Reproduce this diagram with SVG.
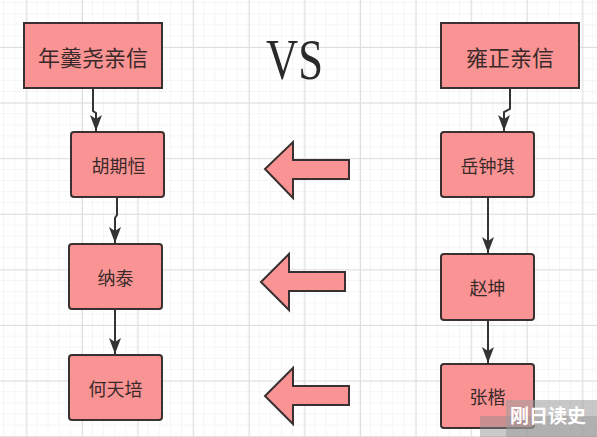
<svg xmlns="http://www.w3.org/2000/svg" width="597" height="437" viewBox="0 0 597 437">
<defs>
<pattern id="minor" x="4" y="3" width="11.12" height="11.12" patternUnits="userSpaceOnUse">
<path d="M11.12 0V11.12M0 11.12H11.12" fill="none" stroke="#ececec" stroke-width="1"/>
</pattern>
<pattern id="major" x="26.4" y="47" width="55.6" height="55.6" patternUnits="userSpaceOnUse">
<path d="M0.5 0V55.6M0 0.5H55.6" fill="none" stroke="#dedede" stroke-width="1"/>
</pattern>
<marker id="ahd" viewBox="0 0 16 12" refX="16" refY="6" markerWidth="16" markerHeight="12" markerUnits="userSpaceOnUse" orient="auto">
<path d="M0 0L16 6L0 12L4 6Z" fill="#333"/>
</marker>
</defs>
<style>
.box{fill:#fa9494;stroke:#3a3030;stroke-width:2}
.lbl{font-family:"Noto Sans CJK SC","Noto Sans CJK JP",sans-serif;fill:#3a2a2a;text-anchor:middle;dominant-baseline:central}
.big{font-size:22px}
.small{font-size:18px}
.conn{fill:none;stroke:#333;stroke-width:2}
.barrow{fill:#fa9494;stroke:#3a3030;stroke-width:2;stroke-linejoin:miter}
</style>
<rect width="597" height="437" fill="#fff"/>
<rect width="597" height="437" fill="url(#minor)"/>
<rect width="597" height="437" fill="url(#major)"/>

<g id="connectors">
<path class="conn" d="M93 88V111L96 113V131" marker-end="url(#ahd)"/>
<path class="conn" d="M117 197V215L115 218V243" marker-end="url(#ahd)"/>
<path class="conn" d="M115 309V354" marker-end="url(#ahd)"/>
<path class="conn" d="M510 88V109L504 112V131" marker-end="url(#ahd)"/>
<path class="conn" d="M488 197V253" marker-end="url(#ahd)"/>
<path class="conn" d="M488 320V363" marker-end="url(#ahd)"/>
</g>

<g id="n-nian">
<rect class="box" x="24" y="23" width="138" height="65"/>
<text class="lbl big" x="93" y="55.5">年羹尧亲信</text>
</g>
<g id="n-hu">
<rect class="box" x="71" y="132" width="93" height="65" rx="3"/>
<text class="lbl small" x="118.5" y="165">胡期恒</text>
</g>
<g id="n-na">
<rect class="box" x="69" y="244" width="93" height="65" rx="3"/>
<text class="lbl small" x="115.5" y="277">纳泰</text>
</g>
<g id="n-he">
<rect class="box" x="69" y="355" width="93" height="65" rx="3"/>
<text class="lbl small" x="115.5" y="388">何天培</text>
</g>

<g id="n-yong">
<rect class="box" x="441" y="23" width="138" height="65"/>
<text class="lbl big" x="510" y="55.5">雍正亲信</text>
</g>
<g id="n-yue">
<rect class="box" x="441" y="132" width="93" height="65" rx="3"/>
<text class="lbl small" x="487.5" y="165">岳钟琪</text>
</g>
<g id="n-zhao">
<rect class="box" x="441" y="254" width="93" height="66" rx="3"/>
<text class="lbl small" x="487.5" y="287">赵坤</text>
</g>
<g id="n-zhang">
<rect class="box" x="441" y="364" width="93" height="64" rx="3"/>
<text class="lbl small" x="487.5" y="396">张楷</text>
</g>

<g id="vs">
<text x="266" y="79" font-family="'Liberation Serif',serif" font-size="58" fill="#2a2a2a" textLength="57" lengthAdjust="spacingAndGlyphs">VS</text>
</g>

<g id="block-arrows">
<path class="barrow" d="M265 169L293 142V160H349V179H293V198Z"/>
<path class="barrow" d="M261 282L289 254V272H345V291H289V310Z"/>
<path class="barrow" d="M265 396L293 368V386H349V405H293V424Z"/>
</g>

<g id="watermark">
<rect x="480" y="416" width="117" height="21" fill="#8a8a8a" fill-opacity="0.45"/>
<rect x="506" y="400" width="91" height="37" fill="#9a9a9a" fill-opacity="0.55"/>
<text x="548" y="414" font-family="'Noto Sans CJK SC',sans-serif" font-size="19" font-weight="bold" fill="#fff" text-anchor="middle" dominant-baseline="central">刚日读史</text>
</g>
</svg>
